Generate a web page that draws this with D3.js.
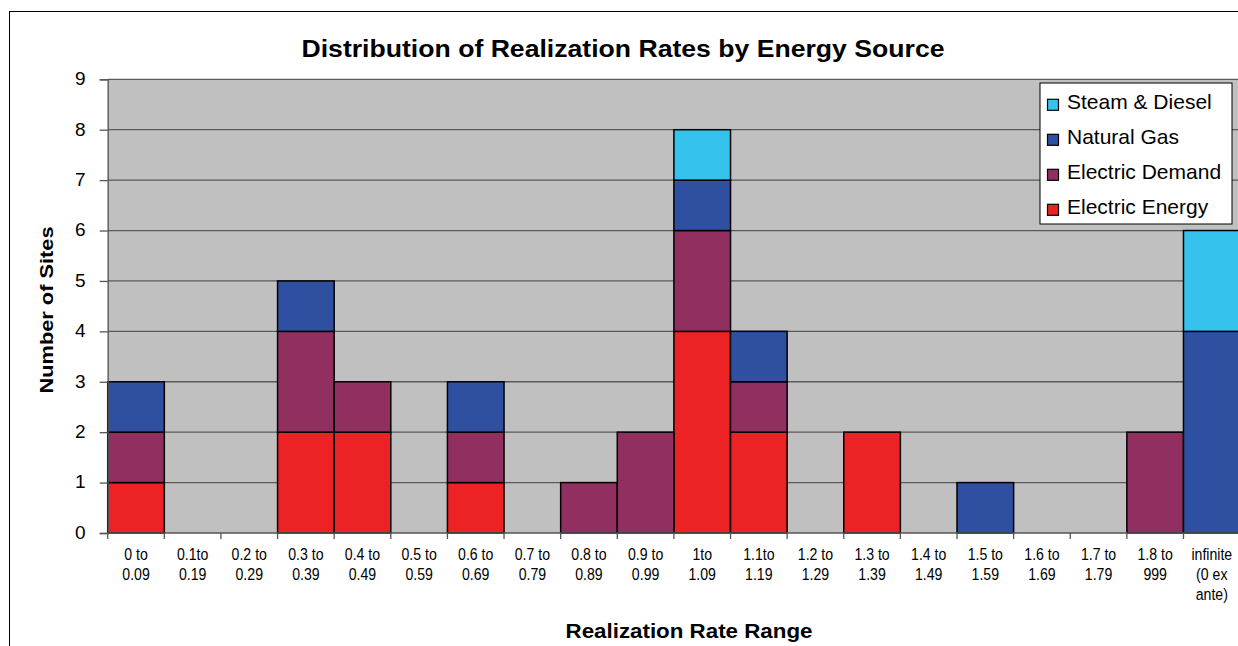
<!DOCTYPE html>
<html><head><meta charset="utf-8">
<script src="https://cdn.jsdelivr.net/npm/d3@7/dist/d3.min.js"></script>
<style>
html,body{margin:0;padding:0;background:#fff;}
svg{display:block;font-family:"Liberation Sans",Arial,sans-serif;}
</style></head>
<body><svg id="c" width="1238" height="646"></svg>
<script>
const categories = ["0 to\n0.09","0.1to\n0.19","0.2 to\n0.29","0.3 to\n0.39","0.4 to\n0.49","0.5 to\n0.59","0.6 to\n0.69","0.7 to\n0.79","0.8 to\n0.89","0.9 to\n0.99","1to\n1.09","1.1to\n1.19","1.2 to\n1.29","1.3 to\n1.39","1.4 to\n1.49","1.5 to\n1.59","1.6 to\n1.69","1.7 to\n1.79","1.8 to\n999","infinite\n(0 ex\nante)"];
const electricEnergy = [1,0,0,2,2,0,1,0,0,0,4,2,0,2,0,0,0,0,0,0];
const electricDemand = [1,0,0,2,1,0,1,0,1,2,2,1,0,0,0,0,0,0,2,0];
const naturalGas     = [1,0,0,1,0,0,1,0,0,0,1,1,0,0,0,1,0,0,0,4];
const steamDiesel    = [0,0,0,0,0,0,0,0,0,0,1,0,0,0,0,0,0,0,0,2];
const seriesNames = ["Electric Energy","Electric Demand","Natural Gas","Steam & Diesel"];
const seriesColors = ["#ED2224","#913060","#2F4FA0","#35C3EE"];
const yTicks = [0,1,2,3,4,5,6,7,8,9];

const svg = d3.select("#c");
const L = 107.7, R = 1240.1, T = 79.3, B = 533;

// outer border
svg.append("rect").attr("x",9.5).attr("y",11.5).attr("width",1400).attr("height",800)
  .attr("fill","#fff").attr("stroke","#000").attr("stroke-width",1);

const x = d3.scaleBand().domain(categories).range([L,R]).padding(0);
const y = d3.scaleLinear().domain([0,9]).range([B,T]);

// plot bg
svg.append("rect").attr("x",L).attr("y",T).attr("width",R-L).attr("height",B-T).attr("fill","#C0C0C0");

// gridlines
svg.append("g").selectAll("line").data(yTicks.filter(d=>d>0)).join("line")
  .attr("x1",L).attr("x2",R).attr("y1",d=>y(d)).attr("y2",d=>y(d))
  .attr("stroke","#5a5a5a").attr("stroke-width",1.3);

// stacked bars
const rows = categories.map((c,i)=>({cat:c,
  "Electric Energy":electricEnergy[i],"Electric Demand":electricDemand[i],
  "Natural Gas":naturalGas[i],"Steam & Diesel":steamDiesel[i]}));
const stack = d3.stack().keys(seriesNames)(rows);
const color = d3.scaleOrdinal().domain(seriesNames).range(seriesColors);
svg.append("g").selectAll("g").data(stack).join("g").attr("fill",d=>color(d.key))
  .selectAll("rect").data(d=>d.filter(s=>s[1]>s[0])).join("rect")
  .attr("x",d=>x(d.data.cat)).attr("width",x.bandwidth())
  .attr("y",d=>y(d[1])).attr("height",d=>y(d[0])-y(d[1]))
  .attr("stroke","#000").attr("stroke-width",1.5);

// y axis
const yAxis = d3.axisLeft(y).tickValues(yTicks).tickSize(8).tickPadding(14).tickFormat(d3.format("d"));
const ga = svg.append("g").attr("transform",`translate(${L},0)`).call(yAxis);
ga.select(".domain").attr("stroke","#555").attr("stroke-width",1.3);
ga.selectAll(".tick line").attr("stroke","#555").attr("stroke-width",1.3);
ga.selectAll(".tick text").attr("font-size",19).attr("fill","#000").attr("dy","0.28em")
  .attr("font-family","Liberation Sans, Arial, sans-serif");

// x axis
const xb = svg.append("g");
xb.append("line").attr("x1",L).attr("x2",R).attr("y1",B).attr("y2",B).attr("stroke","#555").attr("stroke-width",1.3);
const bounds = categories.map(c=>x(c));
xb.selectAll(".xt").data(bounds).join("line").attr("class","xt")
  .attr("x1",d=>d).attr("x2",d=>d).attr("y1",B).attr("y2",B+6).attr("stroke","#555").attr("stroke-width",1.3);
const lbl = xb.selectAll(".xl").data(categories).join("g").attr("class","xl")
  .attr("transform",c=>`translate(${x(c)+x.bandwidth()/2},0) scale(0.83,1)`);
lbl.each(function(c){
  const g = d3.select(this);
  c.split("\n").forEach((s,k)=>{
    g.append("text").attr("x",0).attr("y",560.5+k*20).attr("text-anchor","middle")
      .attr("font-size",17).attr("fill","#000").text(s);
  });
});

// title
svg.append("text").attr("x",623).attr("y",57.3).attr("text-anchor","middle")
  .attr("font-size",23.5).attr("font-weight","bold").attr("textLength",643).attr("lengthAdjust","spacingAndGlyphs")
  .text("Distribution of Realization Rates by Energy Source");
// axis titles
svg.append("text").attr("transform","translate(53,310) rotate(-90)").attr("text-anchor","middle")
  .attr("font-size",18).attr("font-weight","bold").attr("textLength",167).attr("lengthAdjust","spacingAndGlyphs")
  .text("Number of Sites");
svg.append("text").attr("x",689).attr("y",638).attr("text-anchor","middle")
  .attr("font-size",19.5).attr("font-weight","bold").attr("textLength",247).attr("lengthAdjust","spacingAndGlyphs")
  .text("Realization Rate Range");

// legend
const lg = svg.append("g");
lg.append("rect").attr("x",1040).attr("y",83).attr("width",192).attr("height",141)
  .attr("fill","#fff").attr("stroke","#000").attr("stroke-width",1);
const legendOrder = seriesNames.slice().reverse();
const li = lg.selectAll(".li").data(legendOrder).join("g").attr("class","li")
  .attr("transform",(d,i)=>`translate(0,${109.3+i*35})`);
li.append("rect").attr("x",1047.5).attr("y",-10).attr("width",11).attr("height",11)
  .attr("fill",d=>color(d)).attr("stroke","#000").attr("stroke-width",1.2);
li.append("text").attr("x",1067).attr("y",0).attr("font-size",21).attr("fill","#000").text(d=>d);
</script></body></html>
